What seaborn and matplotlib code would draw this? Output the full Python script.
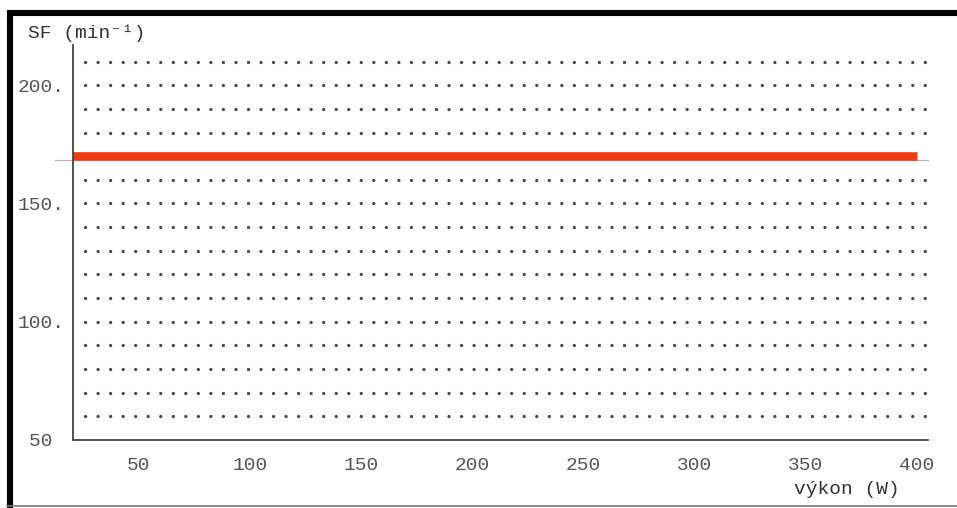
import numpy as np
import matplotlib
matplotlib.use("Agg")
import matplotlib.pyplot as plt
from matplotlib.lines import Line2D
import seaborn as sns
import pandas as pd

# ---- data ----
power_w = [20, 400]            # výkon (W)
sf_values = [170, 170]         # SF (min^-1)
x_ticks = [50, 100, 150, 200, 250, 300, 350, 400]
x_tick_labels = ["50", "100", "150", "200", "250", "300", "350", "400"]
y_ticks = [50, 100, 150, 200]
y_tick_labels = ["50 ", "100.", "150.", "200."]
ref_level = 168.5              # thin grey reference line under the red line

sns.set_theme(style="white")
plt.rcParams["font.family"] = ["Liberation Mono", "DejaVu Sans Mono"]

fig = plt.figure(figsize=(9.57, 5.08), dpi=100)
ax = fig.add_axes([73 / 957, 68 / 508, 855 / 957, 395 / 508])

df = pd.DataFrame({"power": power_w, "sf": sf_values})

# dotted horizontal grid every 10 units (row at 170 is taken by the red line)
grid_rows = [v for v in range(60, 220, 10) if v != 170]
ax.yaxis.remove_overlapping_locs = False
ax.set_yticks(grid_rows, minor=True)
ax.grid(True, which="minor", axis="y", color="#4a4a4a", linewidth=2.4,
        linestyle=(0.15, (0.01, 3.75)), dash_capstyle="round")
ax.grid(False, which="major")
ax.set_axisbelow(True)

# thin grey reference line, sticking out a little left of the axis
ax.axhline(ref_level, xmin=-0.021, xmax=1.0, color="#b5b5b5", lw=0.9,
           zorder=2, clip_on=False)

sns.lineplot(data=df, x="power", y="sf", ax=ax, color="#f03c14", lw=6.2,
             solid_capstyle="butt", zorder=5)

ax.set_xlim(20.5, 405)
ax.set_ylim(50, 217)

ax.set_xticks(x_ticks)
ax.set_xticklabels(x_tick_labels)
ax.set_yticks(y_ticks)
ax.set_yticklabels(y_tick_labels)
ax.tick_params(axis="both", which="both", length=0, labelsize=14,
               labelcolor="#555555")
ax.tick_params(axis="x", pad=12)
ax.tick_params(axis="y", pad=6)

ax.set_xlabel("")
ax.set_ylabel("")
for s in ["top", "right"]:
    ax.spines[s].set_visible(False)
for s in ["left", "bottom"]:
    ax.spines[s].set_color("#444444")
    ax.spines[s].set_linewidth(1.3)
    ax.spines[s].set_zorder(6)

fig.text(28 / 957, 1 - 33 / 508, "SF (min⁻¹)", fontsize=14, color="#333333",
         ha="left", va="center")
fig.text(847 / 957, 1 - 489 / 508, "výkon (W)", fontsize=14, color="#333333",
         ha="center", va="center")

# outer frame
fig.add_artist(Line2D([10 / 957, 10 / 957], [0, 1 - 10 / 508],
                      transform=fig.transFigure, color="black", lw=4.4,
                      solid_capstyle="butt"))
fig.add_artist(Line2D([7 / 957, 1], [1 - 13 / 508, 1 - 13 / 508],
                      transform=fig.transFigure, color="black", lw=4.4,
                      solid_capstyle="butt"))
fig.add_artist(Line2D([7 / 957, 1], [2 / 508, 2 / 508],
                      transform=fig.transFigure, color="#777777", lw=1.2))

fig.savefig("out.png", dpi=100, facecolor="white")
